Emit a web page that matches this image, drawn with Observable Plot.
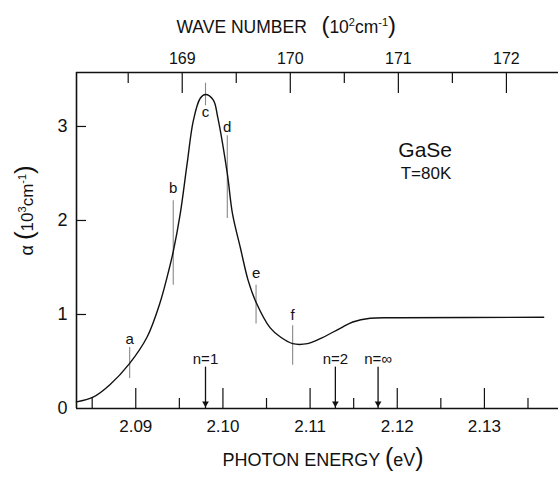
<!DOCTYPE html>
<html><head><meta charset="utf-8">
<script src="https://cdn.jsdelivr.net/npm/d3@7"></script>
<script src="https://cdn.jsdelivr.net/npm/@observablehq/plot@0.6"></script>
<style>body{margin:0;background:#fff} svg{display:block}</style>
</head><body><div id="chart"></div>
<script>
// Absorption curve (photon energy in eV, alpha in 10^3 cm^-1)
const energy = [2.0832, 2.0851, 2.0870, 2.0893, 2.0913, 2.0928, 2.0936, 2.0943, 2.0951, 2.0959, 2.0966, 2.0974, 2.0980, 2.0989, 2.0994, 2.1005, 2.1011, 2.1020, 2.1029, 2.1038, 2.1054, 2.1066, 2.1080, 2.1097, 2.1111, 2.1134, 2.1149, 2.1169, 2.1203, 2.1368];
const alpha  = [0.07, 0.12, 0.25, 0.48, 0.76, 1.13, 1.40, 1.67, 2.07, 2.61, 3.06, 3.30, 3.34, 3.28, 3.10, 2.50, 2.07, 1.71, 1.36, 1.13, 0.86, 0.76, 0.69, 0.69, 0.74, 0.85, 0.92, 0.96, 0.965, 0.97];

// Axis ticks
const bottomMajor = [2.09, 2.10, 2.11, 2.12, 2.13];
const bottomMinor = [2.085, 2.095, 2.105, 2.115, 2.125, 2.135];
const waveMajor = [169, 170, 171, 172];       // 10^2 cm^-1
const waveMinor = [168.5, 169.5, 170.5, 171.5];
const yTicks = [0, 1, 2, 3];
const xDomain = [2.0832, 2.1385];
const yDomain = [0, 3.574];
const eVperCm = 1.23984e-4;

// Marked points a–f
const markLabels = ["a", "b", "c", "d", "e", "f"];
const markEnergy = [2.0893, 2.0943, 2.0980, 2.1005, 2.1038, 2.1080];
const markLow    = [0.32, 1.31, 3.22, 2.02, 0.90, 0.46];
const markHigh   = [0.65, 2.21, 3.46, 2.90, 1.31, 0.88];
const markTextY  = [0.74, 2.34, 3.15, 2.99, 1.44, 0.99];

// Exciton series arrows
const excitonLabels = ["n=1", "n=2", "n=\u221E"];
const excitonEnergy = [2.098, 2.1129, 2.1178];
const excitonTop = 0.44;
const excitonTextY = 0.52;

// Annotation
const sampleText = ["GaSe", "T=80K"];
const sampleX = [2.1232, 2.1233];
const sampleY = [2.745, 2.50];
const sampleSize = [21, 17];

const W = 558, H = 478, mL = 76, mT = 72, mB = 70, mR = 0;
const innerH = H - mT - mB, innerW = W - mL - mR;
const toE = w => w * 100 * eVperCm;

const curve = energy.map((e, i) => ({e, a: alpha[i]}));
const marks = markLabels.map((t, i) => ({t, x: markEnergy[i], y1: markLow[i], y2: markHigh[i], ty: markTextY[i]}));
const excitons = excitonLabels.map((t, i) => ({t, x: excitonEnergy[i]}));
const sample = sampleText.map((t, i) => ({t, x: sampleX[i], y: sampleY[i], s: sampleSize[i]}));

const chart = Plot.plot({
  width: W, height: H,
  marginLeft: mL, marginRight: mR, marginTop: mT, marginBottom: mB,
  x: {domain: xDomain},
  y: {domain: yDomain},
  style: {fontFamily: "Liberation Sans, Arial, sans-serif", fontSize: "16px", color: "#111", background: "#fff", overflow: "visible"},
  marks: [
    Plot.ruleY([yDomain[0]], {stroke: "#111", strokeWidth: 1.6}),
    Plot.ruleY([yDomain[1]], {stroke: "#111", strokeWidth: 1.4}),
    Plot.ruleX([xDomain[0]], {stroke: "#111", strokeWidth: 1.6}),
    Plot.tickX(bottomMajor, {x: d => d, insetTop: innerH - 20, stroke: "#111", strokeWidth: 1.2}),
    Plot.tickX(bottomMinor, {x: d => d, insetTop: innerH - 10, stroke: "#111", strokeWidth: 1.2}),
    Plot.tickX(waveMajor.map(toE), {x: d => d, insetBottom: innerH - 21, stroke: "#111", strokeWidth: 1.2}),
    Plot.tickX(waveMinor.map(toE), {x: d => d, insetBottom: innerH - 11, stroke: "#111", strokeWidth: 1.2}),
    Plot.tickY(yTicks.filter(d => d > 0), {y: d => d, insetRight: innerW - 10, stroke: "#111", strokeWidth: 1.2}),
    Plot.axisX(bottomMajor, {tickSize: 0, tickPadding: 11, tickFormat: d3.format(".2f"), label: null, fontSize: 17}),
    Plot.axisX(waveMajor.map(toE), {anchor: "top", tickSize: 0, tickPadding: 9, tickFormat: d => String(Math.round(d / eVperCm / 100)), label: null, fontSize: 16}),
    Plot.axisY(yTicks, {tickSize: 0, tickPadding: 9, tickFormat: d3.format("d"), label: null, fontSize: 18}),
    Plot.ruleX(marks, {x: "x", y1: "y1", y2: "y2", stroke: "#888", strokeWidth: 1.1}),
    Plot.text(marks, {x: "x", y: "ty", text: "t", fontSize: 15, fill: "#111"}),
    Plot.line(curve, {x: "e", y: "a", curve: "catmull-rom", stroke: "#111", strokeWidth: 1.4}),
    Plot.ruleX(excitons, {x: "x", y1: 0, y2: excitonTop, stroke: "#111", strokeWidth: 1.3}),
    Plot.dot(excitons, {x: "x", y: 0, symbol: "triangle2", r: 3.2, rotate: 180, fill: "#111", stroke: null, dy: -5}),
    Plot.text(excitons, {x: "x", y: excitonTextY, text: "t", fontSize: 15, fill: "#111"}),
    Plot.text(sample, {x: "x", y: "y", text: "t", fontSize: "s", fill: "#111"}),
    Plot.text(["WAVE NUMBER (10^2cm^-1)"], {frameAnchor: "top-left", textAnchor: "start", dx: 100, dy: -52, fontSize: 17.5, fill: "#111"}),
    Plot.text(["PHOTON ENERGY (eV)"], {frameAnchor: "bottom-left", textAnchor: "start", dx: 146, dy: 57, fontSize: 18, fill: "#111"}),
    Plot.text(["\u03B1 (10^3cm^-1)"], {frameAnchor: "left", dx: -49, dy: 15, rotate: -90, fontSize: 17, fill: "#111"})
  ]
});
document.getElementById("chart").appendChild(chart);

// Rich formatting for axis titles: large parentheses and superscripts
const svg = d3.select(chart);
function rich(node, parts) {
  const sel = d3.select(node);
  sel.text(null);
  let shift = 0;
  for (const [t, o] of parts) {
    const ts = sel.append("tspan").text(t);
    if (o.size) ts.attr("font-size", o.size);
    const target = o.sup ? -7 : 0;
    if (target !== shift) { ts.attr("dy", target - shift); shift = target; }
  }
}
svg.selectAll("text").each(function() {
  const s = this.textContent;
  if (s === "WAVE NUMBER (10^2cm^-1)") {
    rich(this, [["WAVE NUMBER   ", {}], ["(", {size: 24}], ["10", {}], ["2", {size: 11, sup: true}], ["cm", {}], ["-1", {size: 11, sup: true}], [")", {size: 24}]]);
  } else if (s === "PHOTON ENERGY (eV)") {
    rich(this, [["PHOTON ENERGY ", {}], ["(", {size: 25}], ["eV", {}], [")", {size: 25}]]);
  } else if (s === "\u03B1 (10^3cm^-1)") {
    rich(this, [["\u03B1 ", {size: 18}], ["(", {size: 26}], ["10", {}], ["3", {size: 11, sup: true}], ["cm", {}], ["-1", {size: 11, sup: true}], [")", {size: 26}]]);
  }
});
</script></body></html>
